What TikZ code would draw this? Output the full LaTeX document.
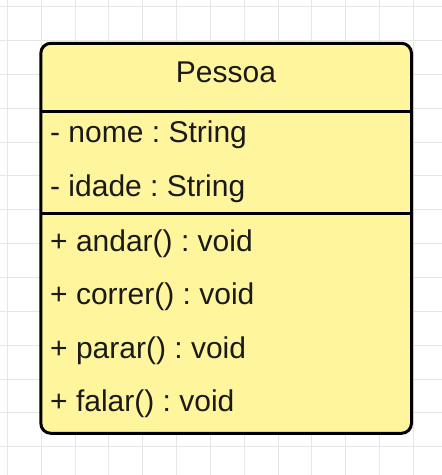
\documentclass[tikz,border=0pt]{standalone}
\usepackage{fontspec}
\setmainfont{Liberation Sans}
\frenchspacing
\definecolor{classfill}{RGB}{255,245,157}
\definecolor{gridgray}{RGB}{230,230,230}
\definecolor{txt}{RGB}{26,26,26}
\begin{document}
\begin{tikzpicture}[x=1pt,y=-1pt,
  gridline/.style={draw=gridgray,line width=1pt},
  classbox/.style={draw=black,fill=classfill,line width=3pt,rounded corners=10pt},
  sepline/.style={draw=black,line width=3pt},
  member/.style={anchor=base west,inner sep=0pt,text=txt,font=\fontsize{30}{36}\selectfont\frenchspacing},
  title/.style={anchor=base,inner sep=0pt,text=txt,font=\fontsize{30}{36}\selectfont}]
\useasboundingbox (0,0) rectangle (442,475);
\fill[white] (0,0) rectangle (442,475);
\foreach \i in {0,...,13} {
  \draw[gridline] ({7.3+33.85*\i},0) -- ({7.3+33.85*\i},475);
}
\foreach \i in {0,...,13} {
  \draw[gridline] (0,{6.7+33.85*\i}) -- (442,{6.7+33.85*\i});
}
\coordinate (tl) at (40.8,43.3);
\coordinate (br) at (411.5,433.3);
\path[classbox] (tl) rectangle (br);
\coordinate (s1l) at (40.8,111);
\coordinate (s1r) at (411.5,111);
\coordinate (s2l) at (40.8,213.3);
\coordinate (s2r) at (411.5,213.3);
\draw[sepline] (s1l) -- (s1r);
\draw[sepline] (s2l) -- (s2r);
\node[title] (name) at (226,82.7) {Pessoa};
\node[member] (a1) at (50,142.5) {- nome : String};
\node[member] (a2) at (50,196.7) {- idade : String};
\node[member] (m1) at (50,251) {+ andar() : void};
\node[member] (m2) at (50,304.5) {+ correr() : void};
\node[member] (m3) at (50,358.3) {+ parar() : void};
\node[member] (m4) at (50,411.7) {+ falar() : void};
\end{tikzpicture}
\end{document}
